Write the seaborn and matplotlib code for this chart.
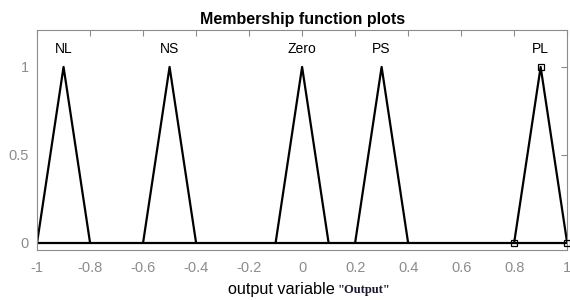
import numpy as np
import pandas as pd
import matplotlib
matplotlib.use("Agg")
import matplotlib.pyplot as plt
import seaborn as sns

# membership function names and triangle parameters [a, b, c]
mf_names = ["NL", "NS", "Zero", "PS", "PL"]
mf_a = [-1.0, -0.6, -0.1, 0.2, 0.8]
mf_b = [-0.9, -0.5, 0.0, 0.3, 0.9]
mf_c = [-0.8, -0.4, 0.1, 0.4, 1.0]
selected_mf = "PL"

x_ticks = [-1, -0.8, -0.6, -0.4, -0.2, 0, 0.2, 0.4, 0.6, 0.8, 1]
x_tick_labels = ["-1", "-0.8", "-0.6", "-0.4", "-0.2", "0", "0.2", "0.4", "0.6", "0.8", "1"]
y_ticks = [0, 0.5, 1]
y_tick_labels = ["0", "0.5", "1"]

rows = []
for name, a, b, c in zip(mf_names, mf_a, mf_b, mf_c):
    rows.append({"mf": name, "x": a, "mu": 0.0})
    rows.append({"mf": name, "x": b, "mu": 1.0})
    rows.append({"mf": name, "x": c, "mu": 0.0})
df = pd.DataFrame(rows)

sns.set_style("white")
plt.rcParams["font.family"] = ["Liberation Sans", "DejaVu Sans"]

fig = plt.figure(figsize=(5.7, 3.0), dpi=100)
ax = fig.add_axes([0.065, 0.167, 0.93, 0.733])

# baseline
ax.plot([-1, 1], [0, 0], color="black", lw=1.6, zorder=2)

sns.lineplot(data=df, x="x", y="mu", hue="mf", units="mf", estimator=None,
             sort=False, palette=["black"] * len(mf_names), legend=False,
             lw=1.6, ax=ax)

sel = df[df["mf"] == selected_mf]
ax.plot(sel["x"], sel["mu"], ls="none", marker="s", ms=5, mfc="none",
        mec="black", mew=0.9, zorder=4, clip_on=False)

for name, b in zip(mf_names, mf_b):
    ax.text(b, 1.1, name, ha="center", va="center", fontsize=10, color="black")

ax.set_xlim(-1, 1)
ax.set_ylim(-0.04, 1.21)
ax.set_xticks(x_ticks)
ax.set_xticklabels(x_tick_labels)
ax.set_yticks(y_ticks)
ax.set_yticklabels(y_tick_labels)

gray = "#8c8c8c"
for s in ax.spines.values():
    s.set_visible(True)
    s.set_color(gray)
    s.set_linewidth(0.8)
ax.tick_params(axis="both", direction="in", length=4, colors=gray,
               labelcolor=gray, labelsize=10.5, top=True, right=True, width=0.8)
ax.tick_params(axis="x", pad=8)
ax.tick_params(axis="y", pad=6)

ax.set_xlabel("")
ax.set_ylabel("")
ax.set_title("Membership function plots", fontsize=11.5, fontweight="bold",
             color="black", pad=4)

fig.text(0.588, 0.02, "output variable", ha="right", va="baseline",
         fontsize=11.7, color="black")
fig.text(0.592, 0.024, "\"Output\"", ha="left", va="baseline", fontsize=9,
         fontweight="bold", family=["Liberation Serif", "DejaVu Serif"],
         color="#1a1a2e")

fig.savefig("out.png", dpi=100)
